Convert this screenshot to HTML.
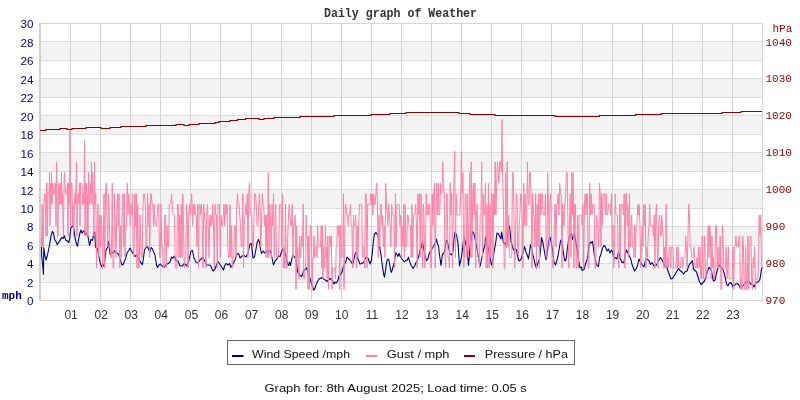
<!DOCTYPE html><html><head><meta charset="utf-8"><style>html,body{margin:0;padding:0;background:#fff;width:800px;height:400px;overflow:hidden;-webkit-font-smoothing:antialiased}svg{display:block}text{font-family:"Liberation Sans",sans-serif}</style></head><body><svg width="800" height="400" viewBox="0 0 800 400" shape-rendering="crispEdges"><rect x="0" y="0" width="800" height="400" fill="#fff"/><rect x="41" y="263" width="721" height="19" fill="#f3f3f3"/><rect x="41" y="226" width="721" height="19" fill="#f3f3f3"/><rect x="41" y="189" width="721" height="19" fill="#f3f3f3"/><rect x="41" y="152" width="721" height="19" fill="#f3f3f3"/><rect x="41" y="115" width="721" height="19" fill="#f3f3f3"/><rect x="41" y="78" width="721" height="19" fill="#f3f3f3"/><rect x="41" y="41" width="721" height="19" fill="#f3f3f3"/><line x1="40" y1="282.5" x2="762" y2="282.5" stroke="#dcdcdc" stroke-width="1"/><line x1="40" y1="263.5" x2="762" y2="263.5" stroke="#dcdcdc" stroke-width="1"/><line x1="40" y1="245.5" x2="762" y2="245.5" stroke="#dcdcdc" stroke-width="1"/><line x1="40" y1="226.5" x2="762" y2="226.5" stroke="#dcdcdc" stroke-width="1"/><line x1="40" y1="208.5" x2="762" y2="208.5" stroke="#dcdcdc" stroke-width="1"/><line x1="40" y1="189.5" x2="762" y2="189.5" stroke="#dcdcdc" stroke-width="1"/><line x1="40" y1="171.5" x2="762" y2="171.5" stroke="#dcdcdc" stroke-width="1"/><line x1="40" y1="152.5" x2="762" y2="152.5" stroke="#dcdcdc" stroke-width="1"/><line x1="40" y1="134.5" x2="762" y2="134.5" stroke="#dcdcdc" stroke-width="1"/><line x1="40" y1="115.5" x2="762" y2="115.5" stroke="#dcdcdc" stroke-width="1"/><line x1="40" y1="97.5" x2="762" y2="97.5" stroke="#dcdcdc" stroke-width="1"/><line x1="40" y1="78.5" x2="762" y2="78.5" stroke="#dcdcdc" stroke-width="1"/><line x1="40" y1="60.5" x2="762" y2="60.5" stroke="#dcdcdc" stroke-width="1"/><line x1="40" y1="41.5" x2="762" y2="41.5" stroke="#dcdcdc" stroke-width="1"/><line x1="70.5" y1="23" x2="70.5" y2="300" stroke="#d2d2d2" stroke-width="1"/><line x1="100.5" y1="23" x2="100.5" y2="300" stroke="#d2d2d2" stroke-width="1"/><line x1="130.5" y1="23" x2="130.5" y2="300" stroke="#d2d2d2" stroke-width="1"/><line x1="160.5" y1="23" x2="160.5" y2="300" stroke="#d2d2d2" stroke-width="1"/><line x1="190.5" y1="23" x2="190.5" y2="300" stroke="#d2d2d2" stroke-width="1"/><line x1="220.5" y1="23" x2="220.5" y2="300" stroke="#d2d2d2" stroke-width="1"/><line x1="251.5" y1="23" x2="251.5" y2="300" stroke="#d2d2d2" stroke-width="1"/><line x1="281.5" y1="23" x2="281.5" y2="300" stroke="#d2d2d2" stroke-width="1"/><line x1="311.5" y1="23" x2="311.5" y2="300" stroke="#d2d2d2" stroke-width="1"/><line x1="341.5" y1="23" x2="341.5" y2="300" stroke="#d2d2d2" stroke-width="1"/><line x1="371.5" y1="23" x2="371.5" y2="300" stroke="#d2d2d2" stroke-width="1"/><line x1="401.5" y1="23" x2="401.5" y2="300" stroke="#d2d2d2" stroke-width="1"/><line x1="431.5" y1="23" x2="431.5" y2="300" stroke="#d2d2d2" stroke-width="1"/><line x1="461.5" y1="23" x2="461.5" y2="300" stroke="#d2d2d2" stroke-width="1"/><line x1="491.5" y1="23" x2="491.5" y2="300" stroke="#d2d2d2" stroke-width="1"/><line x1="521.5" y1="23" x2="521.5" y2="300" stroke="#d2d2d2" stroke-width="1"/><line x1="551.5" y1="23" x2="551.5" y2="300" stroke="#d2d2d2" stroke-width="1"/><line x1="582.5" y1="23" x2="582.5" y2="300" stroke="#d2d2d2" stroke-width="1"/><line x1="612.5" y1="23" x2="612.5" y2="300" stroke="#d2d2d2" stroke-width="1"/><line x1="642.5" y1="23" x2="642.5" y2="300" stroke="#d2d2d2" stroke-width="1"/><line x1="672.5" y1="23" x2="672.5" y2="300" stroke="#d2d2d2" stroke-width="1"/><line x1="702.5" y1="23" x2="702.5" y2="300" stroke="#d2d2d2" stroke-width="1"/><line x1="732.5" y1="23" x2="732.5" y2="300" stroke="#d2d2d2" stroke-width="1"/><line x1="39" y1="23.5" x2="763" y2="23.5" stroke="#d6d6d6"/><line x1="39" y1="300.5" x2="763" y2="300.5" stroke="#d6d6d6"/><rect x="39" y="23" width="2" height="278" fill="#d0d0d0"/><line x1="762.5" y1="23" x2="762.5" y2="301" stroke="#d6d6d6"/></svg><div style="position:absolute;left:0;top:0;width:800px;height:400px;will-change:transform"><svg width="800" height="400" viewBox="0 0 800 400" style="position:absolute;left:0;top:0"><polyline points="41.6,237.5 41.6,255.0 42.9,267.5 43.5,274.4 43.75,247.5 44.75,255.0 46.0,260.0 47.25,256.0 48.5,250.0 49.75,243.75 51.0,236.0 52.4,231.3 53.5,233.1 54.6,239.5 56.1,241.8 57.3,244.8 58.8,242.1 60.3,239.9 61.8,237.6 63.3,238.4 64.4,235.8 65.9,240.3 67.4,241.0 68.9,242.5 70.0,236.5 70.8,228.3 72.6,225.6 73.8,228.3 75.3,239.5 76.8,244.8 77.5,246.3 78.3,241.0 79.8,233.5 80.9,229.8 82.0,233.1 83.1,231.6 84.3,230.5 85.4,234.3 86.9,233.1 88.0,236.5 89.5,245.5 91.0,239.5 92.5,240.3 94.0,232.8 94.8,232.0 95.5,247.0 97.5,249.0 99.0,257.0 100.5,264.0 102.0,267.0 104.0,265.0 105.0,259.0 106.0,250.0 107.5,247.5 108.5,241.5 110.0,254.0 111.0,255.0 112.0,252.0 113.5,253.0 114.5,250.5 116.0,253.0 117.5,253.5 118.5,254.0 120.0,259.0 122.0,265.0 123.5,264.0 124.5,261.0 125.5,259.0 127.0,253.0 128.5,251.0 130.0,248.0 131.5,251.0 133.5,254.5 135.0,256.5 136.5,255.0 138.0,257.5 139.5,260.0 141.0,263.0 142.5,264.5 143.5,258.0 144.5,250.0 146.0,247.5 147.5,246.5 149.0,250.0 150.0,252.0 151.0,247.5 152.5,249.0 154.0,253.0 155.0,255.0 156.5,265.0 157.5,267.5 159.0,265.0 160.5,264.0 162.0,266.0 164.0,267.5 165.5,265.0 167.0,264.0 168.5,263.5 170.0,262.0 171.5,257.0 173.0,258.0 174.5,256.0 175.5,260.0 178.0,261.0 180.0,266.0 182.0,266.0 184.5,263.5 187.0,266.0 189.0,260.0 191.0,251.0 192.5,250.5 194.0,258.0 196.0,262.0 198.0,263.0 200.0,260.0 202.5,257.5 204.5,260.5 206.5,265.0 209.0,265.0 210.5,265.5 213.0,271.0 215.0,269.0 216.5,265.0 218.0,261.5 220.0,264.5 222.0,267.5 223.5,270.0 224.5,266.0 226.0,263.5 228.0,265.0 229.5,263.5 231.0,267.5 233.0,264.0 235.0,260.0 237.0,254.0 238.5,253.5 240.0,258.0 242.0,256.0 244.0,255.5 246.0,257.0 248.0,253.0 250.0,244.0 251.5,243.5 253.0,258.0 254.5,257.0 256.0,249.0 257.0,243.0 258.5,239.5 259.5,242.0 260.5,249.0 261.5,253.5 263.0,251.0 264.5,253.0 266.0,251.5 267.5,253.5 269.0,250.5 270.5,251.0 272.0,258.0 273.5,265.0 275.0,261.0 277.0,259.0 278.5,256.0 280.0,256.5 281.5,252.0 283.0,248.5 284.5,252.0 286.0,256.0 287.5,264.0 288.5,265.5 289.5,262.0 290.5,265.5 292.0,258.0 293.0,255.0 294.5,257.0 296.0,259.0 297.5,272.0 299.5,274.5 301.0,276.5 302.5,275.0 303.5,271.0 305.0,269.5 306.5,268.0 308.0,272.5 309.5,277.0 311.0,282.0 312.5,286.0 313.5,290.0 314.5,289.5 316.0,285.0 317.5,281.5 319.0,279.0 320.5,278.0 321.5,278.5 322.5,277.0 324.0,279.5 325.5,280.0 327.0,281.5 328.5,280.0 330.0,278.5 331.5,279.5 333.0,282.0 334.0,284.0 335.0,282.0 336.5,283.0 338.0,280.0 339.0,276.0 340.5,274.5 342.0,272.0 343.0,268.0 344.5,264.0 346.0,261.0 347.0,257.0 348.5,259.0 350.0,260.0 351.5,262.5 353.0,264.0 354.0,259.0 355.5,252.5 356.5,254.0 358.0,259.0 360.0,264.0 362.0,263.5 364.0,262.0 365.0,259.0 366.5,257.0 368.0,258.0 370.0,264.0 371.5,260.0 372.5,251.0 373.5,240.0 374.5,234.0 376.0,232.5 377.0,234.0 378.0,236.0 380.0,249.0 381.0,255.0 382.3,265.0 383.0,270.0 383.8,274.8 384.4,277.2 385.0,273.6 385.6,270.0 386.5,262.8 387.4,259.2 388.9,259.8 389.5,264.0 390.4,268.8 391.3,272.4 392.2,270.0 392.8,267.6 394.0,264.0 394.6,259.8 395.8,252.8 396.9,254.3 398.0,256.5 399.1,253.5 400.3,256.5 402.0,259.0 404.4,261.8 405.9,260.3 407.4,260.3 408.5,257.3 410.8,264.8 412.3,267.0 413.0,268.5 414.5,266.3 416.0,262.5 417.5,260.3 419.0,255.0 420.5,248.3 421.6,246.8 422.4,241.5 424.0,250.0 426.5,261.0 428.0,258.8 429.1,253.5 430.3,251.3 431.8,249.0 433.3,246.8 434.0,245.6 435.5,243.0 436.5,239.0 437.5,244.0 438.5,246.0 439.0,251.0 441.0,265.5 442.5,254.0 444.0,253.0 445.0,249.0 446.0,242.0 447.0,240.0 448.5,247.0 450.0,254.0 451.5,255.0 453.0,251.0 454.0,239.0 455.0,232.0 456.5,235.0 458.0,243.0 459.5,266.0 461.5,257.0 463.0,245.0 464.0,236.0 466.0,245.0 467.5,254.0 468.5,265.5 470.0,247.0 471.5,238.0 472.5,231.0 474.0,234.0 475.5,241.0 477.0,249.0 478.0,255.0 480.0,266.5 482.0,257.0 483.5,250.0 485.0,245.0 485.5,237.0 486.5,241.0 488.0,247.0 489.5,255.0 491.5,265.0 492.5,262.0 494.0,252.0 495.5,244.0 497.0,233.0 498.5,234.0 500.0,237.0 501.0,239.0 501.5,232.0 503.5,243.0 505.0,244.0 505.5,242.0 506.5,247.0 507.5,236.0 508.5,229.0 509.5,226.0 511.0,241.0 512.0,245.0 513.5,250.0 515.0,248.5 516.5,250.0 517.5,256.0 519.0,261.0 520.5,260.0 521.5,258.0 523.0,253.0 524.5,246.5 526.0,252.0 527.5,256.0 528.5,259.0 529.5,252.0 530.5,244.5 532.0,251.0 533.5,257.0 535.0,264.0 536.5,268.0 537.5,264.0 539.0,261.0 540.0,255.0 541.0,245.0 541.5,237.5 543.0,243.0 544.5,252.0 546.0,260.0 547.0,255.0 548.0,247.0 549.0,240.0 550.0,237.0 551.0,241.0 552.5,250.0 554.0,262.0 555.5,265.0 557.0,260.0 558.0,256.0 559.5,247.0 560.5,241.0 561.5,239.5 563.0,250.0 564.5,260.0 565.5,261.0 566.5,257.0 567.5,247.0 569.0,238.0 570.5,234.0 571.5,233.5 572.5,239.5 574.0,235.0 574.5,233.5 577.0,250.0 578.5,260.0 580.0,268.0 581.5,267.0 582.0,270.5 584.0,269.5 585.5,264.0 587.0,260.0 588.0,254.0 589.0,246.0 590.0,242.0 591.0,243.0 592.5,241.5 594.5,256.0 596.0,263.0 597.5,266.0 598.5,266.5 599.5,258.0 601.0,254.0 602.5,248.0 604.0,245.5 605.5,247.0 607.0,251.0 608.5,249.0 610.0,253.0 611.5,250.0 612.5,252.0 614.0,259.0 615.5,257.5 617.0,259.0 618.5,252.0 620.0,258.0 622.0,262.5 623.0,262.0 624.0,263.0 625.0,255.0 626.5,250.0 628.0,253.5 629.5,256.0 631.0,260.0 632.0,264.5 633.0,267.0 634.5,271.0 636.0,269.0 637.5,265.5 639.0,259.0 640.5,262.0 642.0,264.5 644.0,267.0 645.5,260.0 647.0,259.0 649.0,260.5 650.5,264.5 652.0,262.5 654.0,266.0 656.0,265.5 657.0,264.0 659.0,260.0 660.5,257.5 662.0,260.0 663.5,263.0 665.0,266.0 666.5,266.5 668.0,271.0 669.5,275.0 671.0,279.0 672.5,278.5 674.0,276.0 675.5,273.5 677.0,271.0 678.5,268.5 680.0,270.5 682.0,272.0 683.5,274.0 685.0,272.0 687.0,271.0 688.5,266.5 690.0,263.5 691.5,262.0 692.5,260.5 693.5,269.0 695.0,270.5 696.5,272.0 698.0,277.0 699.5,282.0 701.0,284.5 702.5,283.0 704.5,281.0 706.0,277.0 707.5,271.0 709.0,267.5 710.5,269.0 711.5,271.0 712.5,277.0 713.5,281.0 715.0,280.5 716.5,273.0 718.0,268.0 719.5,265.0 721.0,267.0 723.0,269.5 724.0,272.5 725.5,279.0 726.5,284.0 728.0,286.0 729.0,283.5 730.5,282.5 731.5,283.5 733.0,287.0 734.5,285.0 736.0,284.0 737.5,283.5 739.0,285.0 740.5,288.5 742.0,287.0 744.0,284.5 745.5,282.5 747.0,282.0 748.5,281.0 750.0,283.0 751.5,284.5 753.0,285.0 754.0,287.0 755.5,283.5 757.0,282.5 758.5,281.5 760.0,279.0 761.2,271.0 762.0,267.0" fill="none" stroke="#000080" stroke-width="1.1" stroke-linejoin="round"/>
<polyline points="40.30,246.9 40.90,246.9 41.50,246.9 42.10,204.4 42.70,246.9 43.30,246.9 43.90,204.4 44.50,193.8 45.00,193.8 45.50,204.4 46.00,236.2 46.50,183.1 47.00,183.1 47.50,236.2 48.00,193.8 48.50,193.8 49.00,193.8 49.50,172.5 50.00,225.6 50.50,183.1 51.00,204.4 51.50,172.5 52.00,204.4 52.50,183.1 53.00,183.1 53.50,193.8 54.00,193.8 54.50,193.8 55.00,183.1 55.50,183.1 56.00,225.6 56.50,161.9 57.00,193.8 57.50,236.2 58.00,236.2 58.50,183.1 59.00,193.8 59.50,204.4 60.00,183.1 60.50,183.1 61.00,204.4 61.50,172.5 62.00,204.4 62.50,193.8 63.00,225.6 63.50,236.2 64.00,183.1 64.50,172.5 65.00,183.1 65.50,193.8 66.00,193.8 66.50,193.8 67.00,193.8 67.50,183.1 68.00,236.2 68.50,183.1 69.00,183.1 69.50,204.4 70.00,130.0 70.50,225.6 71.00,193.8 71.50,183.1 72.00,183.1 72.50,225.6 73.00,204.4 73.50,236.2 74.00,225.6 74.50,204.4 75.00,193.8 75.50,204.4 76.00,183.1 76.50,161.9 77.00,236.2 77.50,204.4 78.00,193.8 78.50,193.8 79.00,204.4 79.50,183.1 80.00,225.6 80.50,183.1 81.00,183.1 81.50,183.1 82.00,183.1 82.50,204.4 83.00,204.4 83.50,193.8 84.00,204.4 84.50,140.6 85.00,236.2 85.50,183.1 86.00,193.8 86.50,183.1 87.00,236.2 87.50,193.8 88.00,236.2 88.50,172.5 89.00,183.1 89.50,204.4 90.00,204.4 90.50,183.1 91.00,193.8 91.50,161.9 92.00,204.4 92.50,172.5 93.00,183.1 93.50,225.6 94.00,236.2 94.50,161.9 95.00,204.4 95.75,193.8 96.50,268.1 97.25,225.6 98.00,204.4 98.75,257.5 99.50,215.0 100.25,246.9 101.00,215.0 101.75,225.6 102.50,268.1 103.25,246.9 104.00,193.8 104.75,268.1 105.50,193.8 106.25,183.1 107.00,215.0 107.75,246.9 108.50,193.8 109.25,215.0 110.00,246.9 110.75,257.5 111.50,257.5 112.25,183.1 113.00,268.1 113.75,268.1 114.50,193.8 115.25,225.6 116.00,257.5 116.75,215.0 117.50,193.8 118.25,225.6 119.00,193.8 119.75,268.1 120.50,225.6 121.25,257.5 122.00,215.0 122.75,193.8 123.50,246.9 124.25,193.8 125.00,257.5 125.75,225.6 126.50,225.6 127.25,183.1 128.00,215.0 128.75,193.8 129.50,204.4 130.25,225.6 131.00,204.4 131.75,215.0 132.50,193.8 133.25,246.9 134.00,257.5 134.75,193.8 135.50,225.6 136.25,193.8 137.00,268.1 137.75,204.4 138.50,268.1 139.25,268.1 140.00,215.0 140.75,246.9 141.50,257.5 142.25,257.5 143.00,204.4 143.75,193.8 144.50,193.8 145.25,204.4 146.00,246.9 146.75,246.9 147.50,193.8 148.25,225.6 149.00,204.4 149.75,257.5 150.50,193.8 151.25,193.8 152.00,204.4 152.75,204.4 153.50,225.6 154.25,204.4 155.00,225.6 155.75,225.6 156.50,225.6 157.25,215.0 158.00,204.4 158.75,204.4 159.50,257.5 160.25,257.5 161.00,204.4 161.75,246.9 162.50,246.9 163.25,268.1 164.00,268.1 164.75,215.0 165.50,215.0 166.25,268.1 167.00,225.6 167.75,246.9 168.50,246.9 169.25,204.4 170.00,204.4 170.75,204.4 171.50,193.8 172.25,204.4 173.00,215.0 173.75,215.0 174.50,215.0 175.25,268.1 176.00,268.1 176.75,268.1 177.50,204.4 178.25,204.4 179.00,257.5 179.75,215.0 180.50,257.5 181.25,204.4 182.00,257.5 182.75,193.8 183.50,225.6 184.25,268.1 185.00,257.5 185.75,257.5 186.50,204.4 187.25,215.0 188.00,268.1 188.75,215.0 189.50,204.4 190.25,215.0 191.00,204.4 191.75,193.8 192.50,225.6 193.25,204.4 194.00,215.0 194.75,204.4 195.50,215.0 196.25,215.0 197.00,246.9 197.75,204.4 198.50,268.1 199.25,204.4 200.00,204.4 200.75,215.0 201.50,204.4 202.25,225.6 203.00,268.1 203.75,204.4 204.50,215.0 205.25,225.6 206.00,268.1 206.75,215.0 207.50,204.4 208.25,225.6 209.00,257.5 209.75,215.0 210.50,225.6 211.25,215.0 212.00,225.6 212.75,204.4 213.50,225.6 214.25,268.1 215.00,204.4 215.75,215.0 216.50,215.0 217.25,268.1 218.00,204.4 218.75,204.4 219.50,204.4 220.25,257.5 221.00,215.0 221.75,225.6 222.50,225.6 223.25,215.0 224.00,204.4 224.75,225.6 225.50,204.4 226.25,215.0 227.00,204.4 227.75,246.9 228.50,257.5 229.25,257.5 230.00,204.4 230.75,257.5 231.50,225.6 232.25,268.1 233.00,257.5 233.75,257.5 234.50,225.6 235.25,225.6 236.00,257.5 236.75,204.4 237.50,193.8 238.25,204.4 239.00,204.4 239.75,215.0 240.50,225.6 241.25,246.9 242.00,246.9 242.75,193.8 243.50,268.1 244.25,225.6 245.00,215.0 245.75,204.4 246.50,215.0 247.25,193.8 248.00,257.5 248.75,193.8 249.50,183.1 250.25,215.0 251.00,215.0 251.75,215.0 252.50,246.9 253.25,246.9 254.00,215.0 254.75,193.8 255.50,193.8 256.25,204.4 257.00,225.6 257.75,225.6 258.50,215.0 259.25,193.8 260.00,204.4 260.75,246.9 261.50,225.6 262.25,193.8 263.00,204.4 263.75,204.4 264.50,225.6 265.25,215.0 266.00,257.5 266.75,215.0 267.50,257.5 268.25,172.5 269.00,257.5 269.75,204.4 270.50,225.6 271.25,257.5 272.00,204.4 272.75,225.6 273.50,193.8 274.25,257.5 275.00,225.6 275.75,204.4 276.50,257.5 277.25,257.5 278.00,257.5 278.75,246.9 279.50,204.4 280.25,204.4 281.00,204.4 281.75,246.9 282.50,193.8 283.25,268.1 284.00,246.9 284.75,268.1 285.50,204.4 286.25,268.1 287.00,268.1 287.75,236.2 288.50,215.0 289.25,204.4 290.00,215.0 290.75,225.6 291.50,225.6 292.25,204.4 293.00,257.5 293.75,225.6 294.50,225.6 295.25,215.0 296.00,289.4 296.60,225.6 297.20,257.5 297.80,246.9 298.40,268.1 299.00,278.8 299.60,236.2 300.20,257.5 300.80,257.5 301.40,236.2 302.00,246.9 302.60,236.2 303.20,204.4 303.80,278.8 304.40,278.8 305.00,268.1 305.60,268.1 306.20,215.0 306.80,236.2 307.40,236.2 308.00,289.4 308.60,236.2 309.20,289.4 309.80,246.9 310.40,225.6 311.00,225.6 311.60,246.9 312.20,289.4 312.80,257.5 313.40,257.5 314.00,236.2 314.60,257.5 315.20,246.9 315.80,246.9 316.40,246.9 317.00,257.5 317.60,225.6 318.20,246.9 318.80,246.9 319.40,246.9 320.00,246.9 320.60,246.9 321.20,225.6 321.80,268.1 322.40,225.6 323.00,278.8 323.60,246.9 324.20,268.1 324.80,268.1 325.40,225.6 326.00,257.5 326.60,246.9 327.20,278.8 327.80,236.2 328.40,289.4 329.00,257.5 329.60,236.2 330.20,236.2 330.80,246.9 331.40,236.2 332.00,289.4 332.60,268.1 333.20,268.1 333.80,268.1 334.40,268.1 335.00,268.1 335.60,278.8 336.20,246.9 336.80,246.9 337.40,225.6 338.00,225.6 338.60,236.2 339.20,225.6 339.80,289.4 340.40,225.6 341.00,225.6 341.60,257.5 342.20,257.5 342.80,257.5 343.40,193.8 344.00,289.4 344.60,246.9 345.20,204.4 345.95,204.4 346.70,215.0 347.45,215.0 348.20,225.6 348.95,215.0 349.70,215.0 350.45,204.4 351.20,225.6 351.95,225.6 352.70,268.1 353.45,215.0 354.20,225.6 354.95,225.6 355.70,215.0 356.45,268.1 357.20,225.6 357.95,257.5 358.70,225.6 359.45,204.4 360.20,204.4 360.95,204.4 361.70,204.4 362.45,257.5 363.20,246.9 363.95,246.9 364.70,268.1 365.45,193.8 366.20,193.8 366.95,268.1 367.70,204.4 368.45,204.4 369.20,204.4 369.95,204.4 370.70,193.8 371.45,204.4 372.20,193.8 372.95,215.0 373.70,193.8 374.45,204.4 375.20,204.4 375.95,193.8 376.70,183.1 377.45,204.4 378.20,257.5 378.95,215.0 379.70,246.9 380.45,204.4 381.20,204.4 381.95,225.6 382.70,215.0 383.45,246.9 384.20,225.6 384.95,257.5 385.70,183.1 386.45,204.4 387.20,215.0 387.95,225.6 388.70,204.4 389.45,215.0 390.20,225.6 390.95,246.9 391.70,204.4 392.45,215.0 393.20,215.0 393.95,215.0 394.70,268.1 395.45,193.8 396.20,246.9 396.95,204.4 397.70,204.4 398.45,204.4 399.20,204.4 399.95,225.6 400.70,215.0 401.45,257.5 402.20,225.6 402.95,246.9 403.70,204.4 404.45,257.5 405.20,204.4 405.95,246.9 406.70,246.9 407.45,215.0 408.20,215.0 408.95,225.6 409.70,225.6 410.45,225.6 411.20,257.5 411.95,204.4 412.70,257.5 413.45,215.0 414.20,215.0 414.95,215.0 415.70,204.4 416.45,225.6 417.20,268.1 417.95,193.8 418.70,215.0 419.45,193.8 420.20,257.5 420.95,193.8 421.70,204.4 422.45,268.1 423.20,204.4 423.95,215.0 424.70,268.1 425.45,246.9 426.20,193.8 426.95,215.0 427.70,204.4 428.45,215.0 429.20,204.4 429.95,204.4 430.70,268.1 431.45,268.1 432.20,193.8 432.95,225.6 433.70,193.8 434.45,183.1 435.20,268.1 435.95,215.0 436.70,183.1 437.45,215.0 438.20,183.1 438.95,215.0 439.70,215.0 440.45,183.1 441.20,193.8 441.95,193.8 442.70,161.9 443.45,183.1 444.20,193.8 444.95,257.5 445.70,268.1 446.45,193.8 447.20,193.8 447.95,257.5 448.70,257.5 449.45,268.1 450.20,183.1 450.95,215.0 451.70,193.8 452.45,268.1 453.20,215.0 453.95,183.1 454.70,151.2 455.45,257.5 456.20,193.8 456.95,215.0 457.70,215.0 458.45,215.0 459.20,215.0 459.95,215.0 460.70,193.8 461.45,151.2 462.20,193.8 462.95,172.5 463.70,268.1 464.45,257.5 465.20,193.8 465.95,193.8 466.70,257.5 467.45,193.8 468.20,257.5 468.95,215.0 469.70,172.5 470.45,257.5 471.20,161.9 471.95,257.5 472.70,193.8 473.45,183.1 474.20,215.0 474.95,183.1 475.70,268.1 476.45,215.0 477.20,204.4 477.95,257.5 478.70,257.5 479.45,268.1 480.20,215.0 480.95,215.0 481.70,161.9 482.45,257.5 483.20,193.8 483.95,215.0 484.70,215.0 485.45,183.1 486.20,268.1 486.95,204.4 487.70,268.1 488.45,183.1 489.20,268.1 489.95,204.4 490.70,257.5 491.45,193.8 492.20,193.8 492.95,268.1 493.70,193.8 494.45,215.0 495.20,161.9 495.95,215.0 496.70,183.1 497.45,161.9 498.20,172.5 498.95,183.1 499.70,161.9 500.45,161.9 501.20,172.5 501.95,119.4 502.70,183.1 503.45,204.4 504.20,268.1 504.95,268.1 505.70,172.5 506.45,246.9 507.20,161.9 507.95,246.9 508.70,215.0 509.45,257.5 510.20,257.5 510.95,257.5 511.70,257.5 512.45,172.5 513.20,172.5 513.95,215.0 514.70,268.1 515.45,246.9 516.20,193.8 516.95,193.8 517.70,246.9 518.45,257.5 519.20,225.6 519.95,215.0 520.70,193.8 521.45,193.8 522.20,215.0 522.95,268.1 523.70,183.1 524.45,225.6 525.20,193.8 525.95,225.6 526.70,225.6 527.45,161.9 528.20,204.4 528.95,204.4 529.70,172.5 530.45,172.5 531.20,204.4 531.95,268.1 532.70,193.8 533.45,215.0 534.20,215.0 534.95,246.9 535.70,193.8 536.45,268.1 537.20,204.4 537.95,246.9 538.70,193.8 539.45,268.1 540.20,193.8 540.95,215.0 541.70,193.8 542.45,193.8 543.20,215.0 543.95,215.0 544.70,215.0 545.45,193.8 546.20,257.5 546.95,257.5 547.70,172.5 548.45,204.4 549.20,246.9 549.95,204.4 550.70,193.8 551.45,225.6 552.20,257.5 552.95,268.1 553.70,257.5 554.45,215.0 555.20,204.4 555.95,246.9 556.70,204.4 557.45,204.4 558.20,193.8 558.95,215.0 559.70,183.1 560.45,193.8 561.20,193.8 561.95,268.1 562.70,204.4 563.45,225.6 564.20,225.6 564.95,204.4 565.70,193.8 566.45,172.5 567.20,172.5 567.95,225.6 568.70,268.1 569.45,225.6 570.20,193.8 570.95,257.5 571.70,172.5 572.45,215.0 573.20,172.5 573.95,268.1 574.70,204.4 575.45,204.4 576.20,268.1 576.95,268.1 577.70,215.0 578.45,268.1 579.20,215.0 579.95,215.0 580.70,215.0 581.45,215.0 582.20,225.6 582.95,204.4 583.70,268.1 584.45,204.4 585.20,193.8 585.95,215.0 586.70,193.8 587.45,193.8 588.20,268.1 588.95,268.1 589.70,183.1 590.45,215.0 591.20,193.8 591.95,215.0 592.70,204.4 593.45,204.4 594.20,204.4 594.95,268.1 595.70,268.1 596.45,215.0 597.20,225.6 597.95,225.6 598.70,246.9 599.45,183.1 600.20,193.8 600.95,246.9 601.70,193.8 602.45,225.6 603.20,193.8 603.95,193.8 604.70,193.8 605.45,215.0 606.20,193.8 606.95,215.0 607.70,215.0 608.45,204.4 609.20,204.4 609.95,204.4 610.70,215.0 611.45,193.8 612.20,246.9 612.95,225.6 613.70,268.1 614.45,257.5 615.20,193.8 615.95,215.0 616.70,215.0 617.45,215.0 618.20,257.5 618.95,268.1 619.70,204.4 620.45,257.5 621.20,204.4 621.95,204.4 622.70,204.4 623.45,215.0 624.20,193.8 624.95,268.1 625.70,193.8 626.45,193.8 627.20,225.6 627.95,204.4 628.70,257.5 629.45,193.8 630.20,246.9 630.95,225.6 631.70,215.0 632.45,246.9 633.20,246.9 633.95,257.5 634.70,225.6 635.45,257.5 636.20,225.6 636.95,225.6 637.70,204.4 638.45,215.0 639.20,204.4 639.95,225.6 640.70,268.1 641.45,246.9 642.20,225.6 642.95,246.9 643.70,204.4 644.45,225.6 645.20,204.4 645.95,268.1 646.70,246.9 647.45,257.5 648.20,236.2 648.95,225.6 649.70,204.4 650.45,225.6 651.20,225.6 651.95,225.6 652.70,225.6 653.45,236.2 654.20,215.0 654.95,268.1 655.70,215.0 656.45,204.4 657.20,246.9 657.95,268.1 658.70,225.6 659.45,215.0 660.20,225.6 660.95,236.2 661.70,215.0 662.45,225.6 663.20,236.2 663.95,268.1 664.70,246.9 665.45,268.1 666.20,204.4 666.95,268.1 667.70,257.5 668.45,268.1 669.20,246.9 669.95,246.9 670.70,268.1 671.45,246.9 672.20,246.9 672.95,246.9 673.70,268.1 674.45,268.1 675.20,268.1 675.95,268.1 676.70,246.9 677.45,268.1 678.20,246.9 678.95,268.1 679.70,268.1 680.45,268.1 681.20,257.5 681.95,257.5 682.70,268.1 683.45,257.5 684.20,257.5 684.95,257.5 685.70,236.2 686.45,246.9 687.20,268.1 687.95,236.2 688.70,204.4 689.45,215.0 690.20,246.9 690.95,246.9 691.70,257.5 692.45,257.5 693.20,257.5 693.95,246.9 694.70,257.5 695.45,268.1 696.20,268.1 696.95,257.5 697.70,268.1 698.45,246.9 699.20,268.1 699.95,246.9 700.70,278.8 701.45,278.8 702.20,236.2 702.95,268.1 703.70,278.8 704.45,236.2 705.20,257.5 705.95,278.8 706.70,278.8 707.45,257.5 708.20,225.6 708.95,257.5 709.70,225.6 710.45,236.2 711.20,278.8 711.95,236.2 712.70,268.1 713.45,257.5 714.20,278.8 714.95,268.1 715.70,225.6 716.45,225.6 717.20,268.1 717.95,246.9 718.70,268.1 719.45,257.5 720.20,236.2 720.95,289.4 721.70,289.4 722.45,225.6 723.20,246.9 723.95,268.1 724.70,268.1 725.45,268.1 726.20,246.9 726.95,278.8 727.70,268.1 728.45,246.9 729.20,278.8 729.95,278.8 730.70,278.8 731.45,278.8 732.20,278.8 732.95,246.9 733.70,289.4 734.45,246.9 735.20,246.9 735.95,236.2 736.70,246.9 737.45,246.9 738.20,246.9 738.95,236.2 739.70,236.2 740.45,289.4 741.20,278.8 741.95,289.4 742.70,236.2 743.45,246.9 744.20,289.4 744.95,289.4 745.70,246.9 746.45,289.4 747.20,289.4 747.95,236.2 748.70,289.4 749.45,257.5 750.20,236.2 750.95,236.2 751.70,278.8 752.45,289.4 753.20,257.5 753.95,268.1 754.70,246.9 755.45,289.4 756.20,278.8 756.95,278.8 757.70,278.8 758.45,268.1 759.20,215.0 759.95,236.2 760.70,215.0 761.45,268.1" fill="none" stroke="#ff80a6" stroke-width="1"/>
<polyline points="40.0,130.5 46.0,130.5 46.0,129.5 60.0,129.5 60.0,128.5 67.0,128.5 67.0,129.5 72.0,129.5 72.0,128.5 86.0,128.5 86.0,127.5 101.0,127.5 101.0,128.5 110.0,128.5 110.0,127.5 121.0,127.5 121.0,126.5 146.0,126.5 146.0,125.5 168.0,125.5 168.0,125.5 176.0,125.5 176.0,124.5 184.0,124.5 184.0,125.5 189.0,125.5 189.0,124.5 199.0,124.5 199.0,123.5 206.0,123.5 206.0,123.5 215.0,123.5 215.0,122.5 219.0,122.5 219.0,121.5 230.0,121.5 230.0,120.5 237.5,120.5 237.5,119.5 245.6,119.5 245.6,118.5 259.0,118.5 259.0,119.5 264.0,119.5 264.0,118.5 274.0,118.5 274.0,117.5 300.0,117.5 300.0,116.5 334.0,116.5 334.0,115.5 371.0,115.5 371.0,114.5 390.0,114.5 390.0,113.5 406.0,113.5 406.0,112.5 430.0,112.5 430.0,112.5 459.0,112.5 459.0,113.5 470.0,113.5 470.0,114.5 482.5,114.5 482.5,114.5 495.0,114.5 495.0,115.5 514.0,115.5 514.0,115.5 555.0,115.5 555.0,116.5 599.4,116.5 599.4,115.5 635.6,115.5 635.6,114.5 661.0,114.5 661.0,113.5 722.0,113.5 722.0,112.5 741.0,112.5 741.0,111.5 762.0,111.5" fill="none" stroke="#8e0000" stroke-width="1.15"/><text x="324" y="17" textLength="153" lengthAdjust="spacingAndGlyphs" style="font-family:'Liberation Mono',monospace;font-weight:bold;font-size:12px" fill="#333">Daily graph of Weather</text><text x="33.5" y="305.3" text-anchor="end" fill="#00008b" style="font-size:11.6px">0</text><text x="33.5" y="286.8" text-anchor="end" fill="#00008b" style="font-size:11.6px">2</text><text x="33.5" y="268.4" text-anchor="end" fill="#00008b" style="font-size:11.6px">4</text><text x="33.5" y="249.9" text-anchor="end" fill="#00008b" style="font-size:11.6px">6</text><text x="33.5" y="231.4" text-anchor="end" fill="#00008b" style="font-size:11.6px">8</text><text x="33.5" y="213.0" text-anchor="end" fill="#00008b" style="font-size:11.6px">10</text><text x="33.5" y="194.5" text-anchor="end" fill="#00008b" style="font-size:11.6px">12</text><text x="33.5" y="176.0" text-anchor="end" fill="#00008b" style="font-size:11.6px">14</text><text x="33.5" y="157.6" text-anchor="end" fill="#00008b" style="font-size:11.6px">16</text><text x="33.5" y="139.1" text-anchor="end" fill="#00008b" style="font-size:11.6px">18</text><text x="33.5" y="120.6" text-anchor="end" fill="#00008b" style="font-size:11.6px">20</text><text x="33.5" y="102.2" text-anchor="end" fill="#00008b" style="font-size:11.6px">22</text><text x="33.5" y="83.7" text-anchor="end" fill="#00008b" style="font-size:11.6px">24</text><text x="33.5" y="65.2" text-anchor="end" fill="#00008b" style="font-size:11.6px">26</text><text x="33.5" y="46.8" text-anchor="end" fill="#00008b" style="font-size:11.6px">28</text><text x="33.5" y="28.3" text-anchor="end" fill="#00008b" style="font-size:11.6px">30</text><text x="765.5" y="304.0" fill="#8c0000" style="font-family:'Liberation Mono',monospace;font-size:11px">970</text><text x="765.5" y="267.1" fill="#8c0000" style="font-family:'Liberation Mono',monospace;font-size:11px">980</text><text x="765.5" y="230.1" fill="#8c0000" style="font-family:'Liberation Mono',monospace;font-size:11px">990</text><text x="765.5" y="193.2" fill="#8c0000" style="font-family:'Liberation Mono',monospace;font-size:11px">1000</text><text x="765.5" y="156.3" fill="#8c0000" style="font-family:'Liberation Mono',monospace;font-size:11px">1010</text><text x="765.5" y="119.3" fill="#8c0000" style="font-family:'Liberation Mono',monospace;font-size:11px">1020</text><text x="765.5" y="82.4" fill="#8c0000" style="font-family:'Liberation Mono',monospace;font-size:11px">1030</text><text x="765.5" y="45.5" fill="#8c0000" style="font-family:'Liberation Mono',monospace;font-size:11px">1040</text><text x="772.5" y="32.3" fill="#8c0000" style="font-family:'Liberation Mono',monospace;font-size:11px">hPa</text><text x="2" y="299" fill="#00008b" style="font-family:'Liberation Mono',monospace;font-size:11px;font-weight:bold">mph</text><text x="71.1" y="319" text-anchor="middle" fill="#333" style="font-size:12px">01</text><text x="101.2" y="319" text-anchor="middle" fill="#333" style="font-size:12px">02</text><text x="131.2" y="319" text-anchor="middle" fill="#333" style="font-size:12px">03</text><text x="161.3" y="319" text-anchor="middle" fill="#333" style="font-size:12px">04</text><text x="191.4" y="319" text-anchor="middle" fill="#333" style="font-size:12px">05</text><text x="221.5" y="319" text-anchor="middle" fill="#333" style="font-size:12px">06</text><text x="251.6" y="319" text-anchor="middle" fill="#333" style="font-size:12px">07</text><text x="281.7" y="319" text-anchor="middle" fill="#333" style="font-size:12px">08</text><text x="311.8" y="319" text-anchor="middle" fill="#333" style="font-size:12px">09</text><text x="341.8" y="319" text-anchor="middle" fill="#333" style="font-size:12px">10</text><text x="371.9" y="319" text-anchor="middle" fill="#333" style="font-size:12px">11</text><text x="402.0" y="319" text-anchor="middle" fill="#333" style="font-size:12px">12</text><text x="432.1" y="319" text-anchor="middle" fill="#333" style="font-size:12px">13</text><text x="462.2" y="319" text-anchor="middle" fill="#333" style="font-size:12px">14</text><text x="492.2" y="319" text-anchor="middle" fill="#333" style="font-size:12px">15</text><text x="522.3" y="319" text-anchor="middle" fill="#333" style="font-size:12px">16</text><text x="552.4" y="319" text-anchor="middle" fill="#333" style="font-size:12px">17</text><text x="582.5" y="319" text-anchor="middle" fill="#333" style="font-size:12px">18</text><text x="612.6" y="319" text-anchor="middle" fill="#333" style="font-size:12px">19</text><text x="642.7" y="319" text-anchor="middle" fill="#333" style="font-size:12px">20</text><text x="672.8" y="319" text-anchor="middle" fill="#333" style="font-size:12px">21</text><text x="702.8" y="319" text-anchor="middle" fill="#333" style="font-size:12px">22</text><text x="732.9" y="319" text-anchor="middle" fill="#333" style="font-size:12px">23</text><rect x="227.5" y="340.5" width="347" height="24" fill="none" stroke="#666" stroke-width="1"/><rect x="232" y="355" width="11.5" height="2" fill="#000090"/><text x="252" y="358.3" style="font-size:11.3px" fill="#111" textLength="98" lengthAdjust="spacingAndGlyphs">Wind Speed /mph</text><rect x="366" y="355" width="11" height="2" fill="#ff80a8"/><text x="386.8" y="358.3" style="font-size:11.3px" fill="#111" textLength="62.7" lengthAdjust="spacingAndGlyphs">Gust / mph</text><rect x="464" y="355" width="11" height="2" fill="#8c0000"/><text x="484.8" y="358.3" style="font-size:11.3px" fill="#111" textLength="83.2" lengthAdjust="spacingAndGlyphs">Pressure / hPa</text><text x="264.5" y="392" style="font-size:11.3px" fill="#111" textLength="262.3" lengthAdjust="spacingAndGlyphs">Graph for: 8th August 2025; Load time: 0.05 s</text></svg></div></body></html>
